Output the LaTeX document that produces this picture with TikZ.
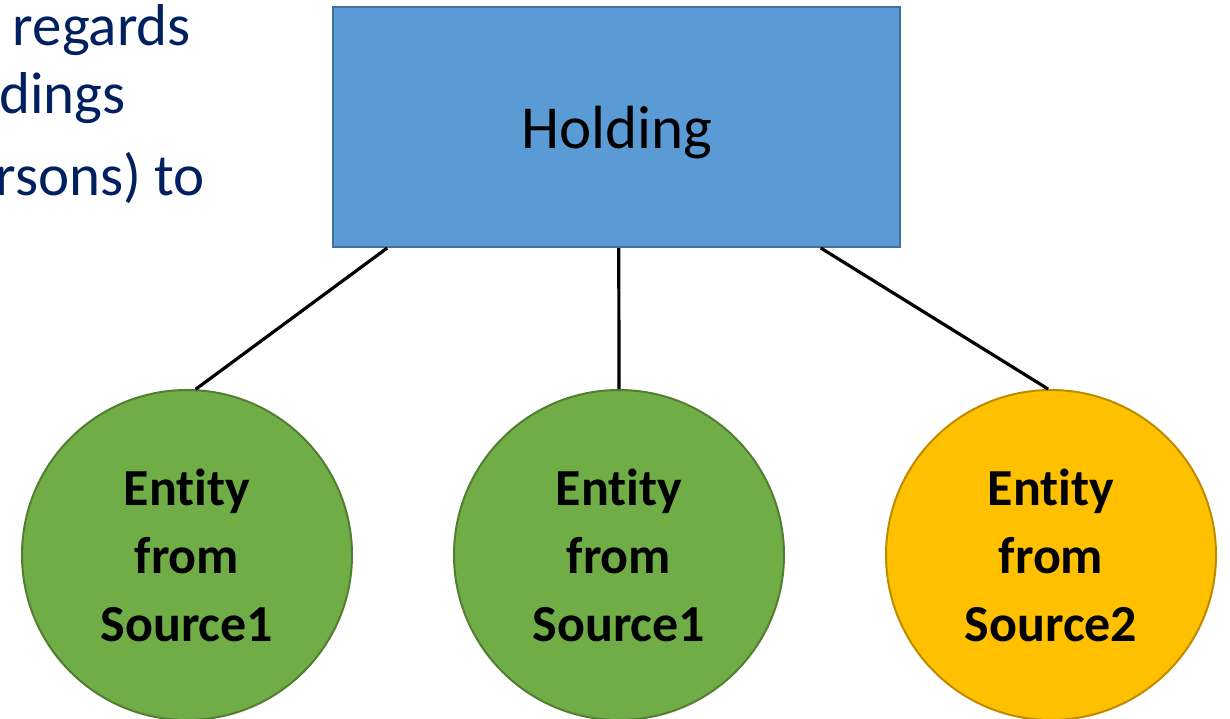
\documentclass[tikz,border=0pt]{standalone}
\usepackage{fontspec}
\setmainfont{Carlito}[Ligatures=NoCommon]
\usetikzlibrary{calc}
\definecolor{boxblue}{HTML}{5B9BD5}
\definecolor{boxblueline}{HTML}{41719C}
\definecolor{entgreen}{HTML}{70AD47}
\definecolor{entgreenline}{HTML}{507E32}
\definecolor{entorange}{HTML}{FFC000}
\definecolor{entorangeline}{HTML}{BC8C00}
\definecolor{navytext}{HTML}{002060}
\tikzset{
  holdbox/.style={draw=boxblueline, line width=2pt, fill=boxblue, minimum width=567pt, minimum height=240pt, inner sep=0pt, text depth=0pt, font=\fontsize{61}{70}\selectfont},
  entity/.style={circle, line width=2pt, minimum size=330pt, inner sep=0pt, align=center, font=\fontsize{52}{68}\selectfont\bfseries},
  greenent/.style={entity, draw=entgreenline, fill=entgreen},
  orangeent/.style={entity, draw=entorangeline, fill=entorange},
  link/.style={draw=black, line width=3.2pt},
  sidetext/.style={anchor=base east, inner sep=0pt, text=navytext, font=\fontsize{59}{60}\selectfont}
}
\begin{document}
\begin{tikzpicture}[x=1pt,y=-1pt]
\useasboundingbox (0,0) rectangle (1230,718);
\node[sidetext] (t1) at (191,45) {regards};
\node[sidetext] (t2) at (126,113) {dings};
\node[sidetext] (t3) at (205,195) {rsons) to};
\node[holdbox] (h) at (616.5,127) {Holding};
\node[greenent] (c1) at (187,555) {Entity\\from\\Source1};
\node[greenent] (c2) at (619,555) {Entity\\from\\Source1};
\node[orangeent] (c3) at (1051,555) {Entity\\from\\Source2};
\draw[link] ($(h.south west)!0.097!(h.south east)$) -- (c1.87);
\draw[link] ($(h.south west)!0.504!(h.south east)$) -- (c2.north);
\draw[link] ($(h.south west)!0.859!(h.south east)$) -- (c3.91);
\end{tikzpicture}
\end{document}
